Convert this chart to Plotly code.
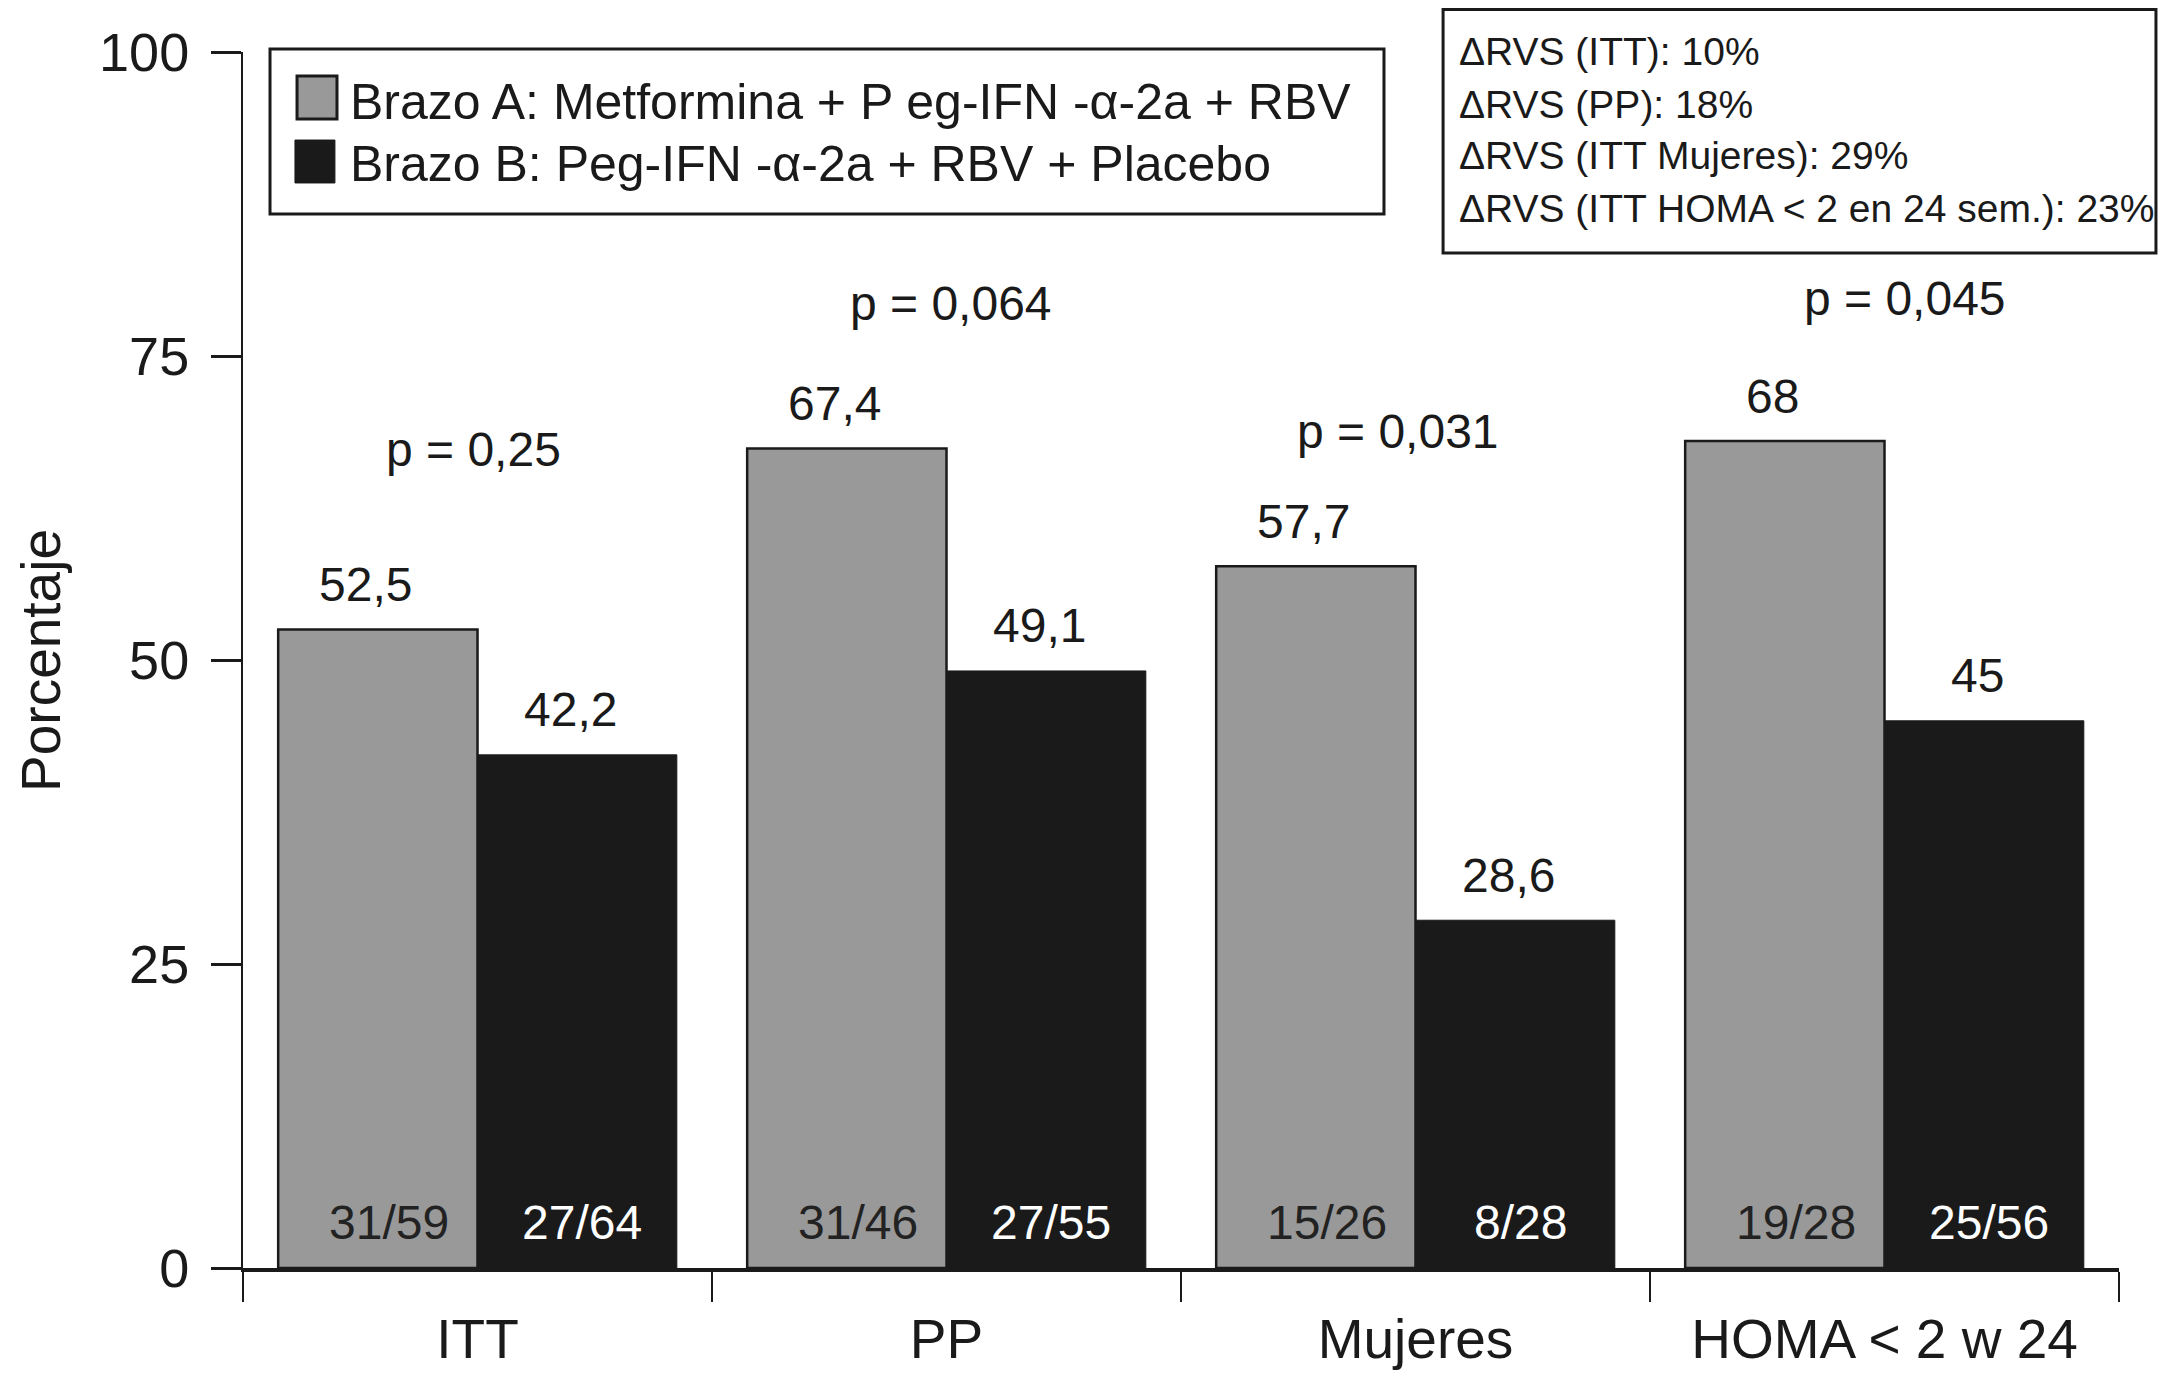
import plotly.graph_objects as go

# data
CATEGORIES = ["ITT", "PP", "Mujeres", "HOMA < 2 w 24"]
ARM_A_NAME = "Brazo A: Metformina + P eg-IFN -α-2a + RBV"
ARM_B_NAME = "Brazo B: Peg-IFN -α-2a + RBV + Placebo"
ARM_A_VALUES = [52.5, 67.4, 57.7, 68]
ARM_B_VALUES = [42.2, 49.1, 28.6, 45]
ARM_A_COUNTS = ["31/59", "31/46", "15/26", "19/28"]
ARM_B_COUNTS = ["27/64", "27/55", "8/28", "25/56"]
P_VALUES = ["p = 0,25", "p = 0,064", "p = 0,031", "p = 0,045"]
DELTA_LINES = [
    "ΔRVS (ITT): 10%",
    "ΔRVS (PP): 18%",
    "ΔRVS (ITT Mujeres): 29%",
    "ΔRVS (ITT HOMA < 2 en 24 sem.): 23%",
]
Y_TICKS = [0, 25, 50, 75, 100]
Y_TITLE = "Porcentaje"

# layout / styling
FONT = "Liberation Sans, Arial, Helvetica, sans-serif"
GRAY = "#999999"
BLACK = "#1a1a1a"
INK = "#1a1a1a"
BARGAP = 0.15
P_LABEL_Y = [67.3, 79.3, 68.8, 79.7]
P_LABEL_XSHIFT = [-4, 4, -18, 20]
VALUE_XSHIFT = (-12, -7)   # gray, black
COUNT_XSHIFT = (11, 5)


def fmt_value(v):
    return f"{v:g}".replace(".", ",")


fig = go.Figure()
fig.add_trace(go.Bar(
    x=CATEGORIES, y=ARM_A_VALUES, name=ARM_A_NAME,
    marker=dict(color=GRAY, line=dict(color=INK, width=2.5)),
    showlegend=False, hoverinfo="x+y",
))
fig.add_trace(go.Bar(
    x=CATEGORIES, y=ARM_B_VALUES, name=ARM_B_NAME,
    marker=dict(color=BLACK, line=dict(color=BLACK, width=1)),
    showlegend=False, hoverinfo="x+y",
))

half = (1 - BARGAP) / 4
annotations = []
for i, cat in enumerate(CATEGORIES):
    arms = (
        (-half, ARM_A_VALUES[i], ARM_A_COUNTS[i], "#222222", VALUE_XSHIFT[0], COUNT_XSHIFT[0]),
        (half, ARM_B_VALUES[i], ARM_B_COUNTS[i], "white", VALUE_XSHIFT[1], COUNT_XSHIFT[1]),
    )
    for offset, val, count, count_color, vshift, cshift in arms:
        annotations.append(dict(
            x=i + offset, y=val, xref="x", yref="y", text=fmt_value(val),
            showarrow=False, yshift=45, xshift=vshift, yanchor="middle",
            font=dict(family=FONT, size=48, color=INK),
        ))
        annotations.append(dict(
            x=i + offset, y=0, xref="x", yref="y", text=count,
            showarrow=False, yshift=46, xshift=cshift, yanchor="middle",
            font=dict(family=FONT, size=48, color=count_color),
        ))
    annotations.append(dict(
        x=i, y=P_LABEL_Y[i], xref="x", yref="y", text=P_VALUES[i],
        showarrow=False, xshift=P_LABEL_XSHIFT[i], yanchor="middle",
        font=dict(family=FONT, size=48, color=INK),
    ))

# y axis title
annotations.append(dict(
    x=-0.1077, y=0.5, xref="paper", yref="paper", text=Y_TITLE,
    showarrow=False, textangle=-90, xanchor="center", yanchor="middle",
    font=dict(family=FONT, size=55, color=INK),
))

# legend (drawn by hand so the swatches can be large)
shapes = [
    dict(type="rect", xref="paper", yref="paper", x0=0.0144, x1=0.6082,
         y0=0.8668, y1=1.0025, line=dict(color=INK, width=3),
         fillcolor="white", layer="above"),
    dict(type="rect", xref="paper", yref="paper", x0=0.0288, x1=0.0501,
         y0=0.9449, y1=0.9803, line=dict(color=INK, width=3),
         fillcolor=GRAY, layer="above"),
    dict(type="rect", xref="paper", yref="paper", x0=0.0277, x1=0.0490,
         y0=0.8923, y1=0.9276, line=dict(color=BLACK, width=1),
         fillcolor=BLACK, layer="above"),
    # info box
    dict(type="rect", xref="paper", yref="paper", x0=0.6397, x1=1.0197,
         y0=0.8347, y1=1.0350, line=dict(color=INK, width=3),
         fillcolor="white", layer="above"),
]
for text, y in ((ARM_A_NAME, 0.9589), (ARM_B_NAME, 0.9079)):
    annotations.append(dict(
        x=0.056, y=y, xref="paper", yref="paper", text=text,
        showarrow=False, xanchor="left", yanchor="middle",
        font=dict(family=FONT, size=50, color=INK),
    ))
for text, y in zip(DELTA_LINES, (1.0008, 0.9572, 0.9145, 0.8709)):
    annotations.append(dict(
        x=0.6471, y=y, xref="paper", yref="paper", text=text,
        showarrow=False, xanchor="left", yanchor="middle",
        font=dict(family=FONT, size=39, color=INK),
    ))

fig.update_layout(
    width=2151,
    height=1369,
    margin=dict(l=235, r=40, t=44, b=109, pad=0),
    paper_bgcolor="white",
    plot_bgcolor="white",
    barmode="group",
    bargap=BARGAP,
    bargroupgap=0,
    font=dict(family=FONT, color=INK),
    annotations=annotations,
    shapes=shapes,
    xaxis=dict(
        type="category",
        range=[-0.5, len(CATEGORIES) - 0.5],
        automargin=False,
        showline=True, linecolor=INK, linewidth=4,
        ticks="outside", tickson="boundaries", ticklen=30, tickwidth=2,
        tickcolor=INK, showgrid=False, zeroline=False,
        tickfont=dict(family=FONT, size=55, color=INK),
        ticklabelstandoff=20,
        fixedrange=True,
    ),
    yaxis=dict(
        range=[0, 100],
        tickvals=Y_TICKS,
        automargin=False,
        showline=True, linecolor=INK, linewidth=2,
        ticks="outside", ticklen=30, tickwidth=3, tickcolor=INK,
        showgrid=False, zeroline=False,
        tickfont=dict(family=FONT, size=54, color=INK),
        ticklabelstandoff=11,
        fixedrange=True,
    ),
)

fig.write_html("out.html")
